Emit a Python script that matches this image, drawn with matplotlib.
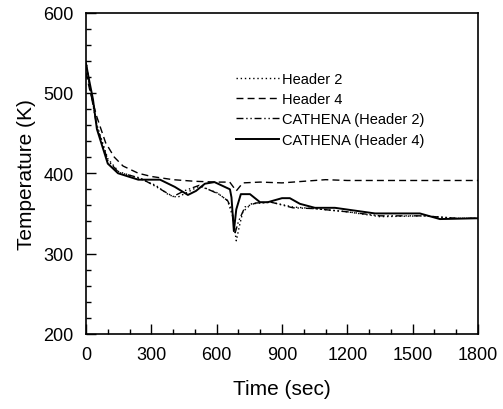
import matplotlib.pyplot as plt
from matplotlib.ticker import MultipleLocator

plt.rcParams['font.family'] = ['Liberation Sans', 'DejaVu Sans']

# Header 4 (experiment, dashed)
t_h4 = [0, 20, 50, 90, 130, 170, 240, 300, 400, 500, 600, 660, 690, 720, 800, 900, 1000, 1100, 1200, 1400, 1600, 1800]
T_h4 = [525, 500, 470, 438, 420, 409, 400, 396, 392, 390, 389, 389, 378, 388, 389, 388, 390, 392, 391, 391, 391, 391]

# Header 2 (experiment, dotted)
t_h2 = [0, 20, 50, 100, 150, 250, 320, 380, 420, 520, 600, 650, 675, 690, 705, 720, 760, 850, 950, 1050, 1200, 1350, 1550, 1700, 1800]
T_h2 = [540, 505, 460, 418, 402, 393, 385, 373, 370, 384, 376, 366, 345, 316, 335, 352, 362, 364, 358, 356, 352, 346, 347, 344, 344]

# CATHENA (Header 2), dash-dot-dot
t_c2 = [0, 20, 50, 100, 150, 250, 330, 400, 450, 520, 610, 650, 670, 685, 700, 730, 780, 850, 950, 1050, 1200, 1350, 1550, 1700, 1800]
T_c2 = [538, 503, 458, 416, 401, 394, 382, 371, 378, 385, 374, 366, 355, 326, 340, 358, 363, 364, 357, 356, 352, 347, 347, 344, 344]

# CATHENA (Header 4), solid
t_c4 = [0, 15, 32, 50, 100, 147, 240, 340, 408, 468, 505, 546, 590, 661, 668, 679, 690, 711, 753, 799, 835, 900, 936, 982, 1051, 1143, 1327, 1533, 1625, 1800]
T_c4 = [536, 515, 492, 455, 412, 400, 392, 392, 383, 373, 378, 387, 389, 380, 370, 328, 355, 374, 374, 364, 364, 369, 369, 362, 357, 357, 350, 350, 343, 344]

fig = plt.figure(figsize=(5.03, 4.10), dpi=100)
ax = fig.add_axes([86 / 503, 75 / 410, 392 / 503, 321.5 / 410])

ax.plot(t_h2, T_h2, color='black', linestyle=(0, (1, 2)), linewidth=1.0, label='Header 2')
ax.plot(t_h4, T_h4, color='black', linestyle=(0, (5, 3)), linewidth=1.0, label='Header 4')
ax.plot(t_c2, T_c2, color='black', linestyle=(0, (5, 2, 1, 2, 1, 2)), linewidth=1.0, label='CATHENA (Header 2)')
ax.plot(t_c4, T_c4, color='black', linestyle='-', linewidth=1.4, label='CATHENA (Header 4)')

ax.set_xlim(0, 1800)
ax.set_ylim(200, 600)
ax.xaxis.set_major_locator(MultipleLocator(300))
ax.xaxis.set_minor_locator(MultipleLocator(100))
ax.yaxis.set_major_locator(MultipleLocator(100))
ax.yaxis.set_minor_locator(MultipleLocator(20))
ax.tick_params(which='both', direction='in', top=False, right=False, labelsize=13, width=1, pad=9)
ax.tick_params(which='major', length=7)
ax.tick_params(which='minor', length=3.5)
for s in ax.spines.values():
    s.set_linewidth(1.2)

ax.set_xlabel('Time (sec)', fontsize=15, labelpad=11)
ax.set_ylabel('Temperature (K)', fontsize=15, labelpad=5)

ax.legend(loc='upper left', bbox_to_anchor=(0.35, 0.855), frameon=False, fontsize=10.5,
          handlelength=2.9, handletextpad=0.2, labelspacing=0.42)

fig.savefig('out.png', dpi=100)
